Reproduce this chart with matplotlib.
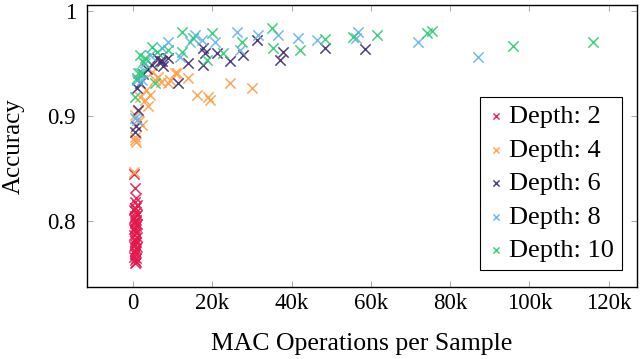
import matplotlib
matplotlib.use("Agg")
import matplotlib.pyplot as plt

plt.rcParams['font.family'] = ['Liberation Serif', 'DejaVu Serif']
plt.rcParams['mathtext.fontset'] = 'stix'

# Depth 2
d2_x = [300, 500, 700, 400, 900, 600, 200, 800, 1000, 500, 300, 700, 600, 400, 900, 800, 500, 200,
        600, 700, 300, 1100, 400, 500, 800, 600, 300, 900, 700, 400, 500, 600, 300, 800, 400, 700, 500, 600]
d2_y = [0.845, 0.831, 0.822, 0.818, 0.815, 0.812, 0.810, 0.808, 0.806, 0.805, 0.803, 0.801, 0.800, 0.798,
        0.797, 0.795, 0.793, 0.792, 0.790, 0.788, 0.787, 0.785, 0.783, 0.781, 0.780, 0.778, 0.776, 0.775,
        0.773, 0.771, 0.770, 0.768, 0.766, 0.765, 0.763, 0.761, 0.760, 0.812]
# Depth 4
d4_x = [300, 500, 700, 500, 2300, 500, 3800, 3000, 1800, 4300, 5500, 8800, 11100, 9300, 13900, 16100,
        18900, 19400, 24500, 30000, 4800, 6300, 10600, 7000, 1200, 3300, 1500]
d4_y = [0.847, 0.880, 0.875, 0.877, 0.891, 0.901, 0.909, 0.915, 0.918, 0.920, 0.934, 0.931, 0.941, 0.934,
        0.936, 0.920, 0.918, 0.915, 0.931, 0.927, 0.942, 0.937, 0.941, 0.932, 0.905, 0.925, 0.895]
# Depth 6
d6_x = [500, 800, 1100, 1800, 4800, 6800, 7600, 6000, 8800, 11300, 13900, 17700, 18200, 17600, 21200,
        24500, 27700, 31300, 37100, 37800, 48400, 58500, 1200, 7300, 2500, 3500]
d6_y = [0.885, 0.890, 0.927, 0.931, 0.949, 0.952, 0.948, 0.955, 0.955, 0.931, 0.950, 0.965, 0.960, 0.949,
        0.960, 0.952, 0.958, 0.972, 0.953, 0.961, 0.965, 0.964, 0.906, 0.952, 0.940, 0.945]
# Depth 8
d8_x = [500, 1100, 1800, 4300, 7300, 8800, 11900, 14400, 15600, 17400, 20700, 26200, 27000, 31500,
        36600, 41600, 46400, 56700, 56200, 71900, 87000, 2300, 1100, 3000]
d8_y = [0.898, 0.934, 0.941, 0.958, 0.965, 0.970, 0.956, 0.970, 0.977, 0.972, 0.970, 0.980, 0.963, 0.977,
        0.977, 0.974, 0.972, 0.980, 0.974, 0.970, 0.956, 0.934, 0.896, 0.950]
# Depth 10
d10_x = [500, 1100, 2300, 1800, 3000, 5500, 4800, 8800, 12400, 12400, 15100, 18700, 19900, 22700, 27500,
         35000, 35300, 42100, 48400, 55500, 61500, 74100, 75400, 95800, 116000, 6000, 2500, 1200]
d10_y = [0.918, 0.936, 0.941, 0.958, 0.955, 0.931, 0.966, 0.963, 0.980, 0.961, 0.974, 0.953, 0.979, 0.960,
         0.970, 0.984, 0.965, 0.963, 0.973, 0.975, 0.977, 0.979, 0.981, 0.967, 0.970, 0.961, 0.951, 0.941]

series = [
    ("Depth: 2", d2_x, d2_y, "#e4174b"),
    ("Depth: 4", d4_x, d4_y, "#ff9f4a"),
    ("Depth: 6", d6_x, d6_y, "#3d2b72"),
    ("Depth: 8", d8_x, d8_y, "#67b1ef"),
    ("Depth: 10", d10_x, d10_y, "#2ecc71"),
]

xticks = [0, 20000, 40000, 60000, 80000, 100000, 120000]
xticklabels = ["0", "20k", "40k", "60k", "80k", "100k", "120k"]
yticks = [0.8, 0.9, 1.0]
yticklabels = ["0.8", "0.9", "1"]

fig = plt.figure(figsize=(6.4, 3.59), dpi=100)
ax = fig.add_axes([0.136, 0.2006, 0.859, 0.7854])

for label, xs, ys, c in series:
    ax.scatter(xs, ys, marker='x', s=55, linewidths=1.1, color=c, label=label, alpha=0.9)

ax.set_xlim(-11600, 127100)
ax.set_ylim(0.737, 1.0057)
ax.set_xticks(xticks)
ax.set_xticklabels(xticklabels)
ax.set_yticks(yticks)
ax.set_yticklabels(yticklabels)
ax.tick_params(direction='in', length=4.5, width=0.6, color='#999999', top=True, right=True,
               labelsize=16.5)
ax.tick_params(axis='x', pad=4)
ax.tick_params(axis='y', pad=8)
for sp in ax.spines.values():
    sp.set_linewidth(1.0)
ax.set_xlabel("MAC Operations per Sample", fontsize=18.5, labelpad=14)
ax.set_ylabel("Accuracy", fontsize=18, labelpad=16)

leg = ax.legend(loc='lower right', bbox_to_anchor=(0.973, 0.06), fontsize=19, markerscale=0.6,
                frameon=True, fancybox=False, edgecolor='black', framealpha=1,
                handlelength=0.6, handletextpad=0.2, borderpad=0.3, labelspacing=0.38,
                borderaxespad=0)
leg.get_frame().set_linewidth(0.8)

fig.savefig("out.png", dpi=100)
